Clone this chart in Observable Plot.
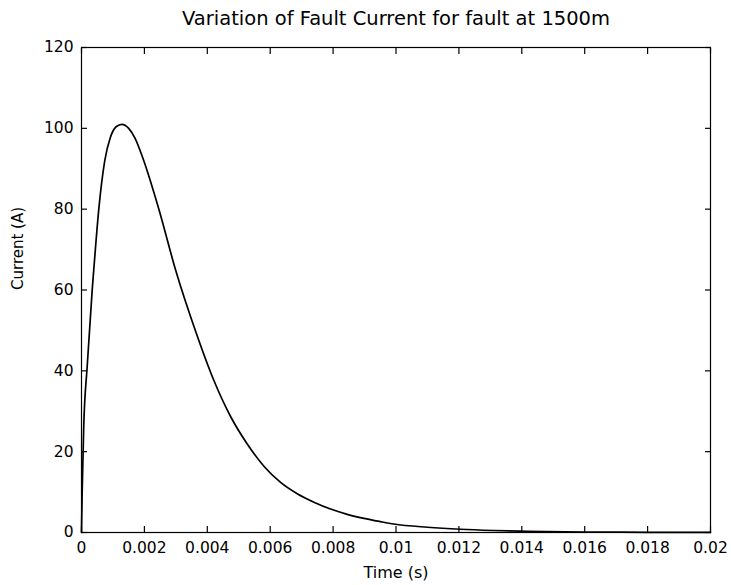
<!DOCTYPE html>
<html>
<head>
<meta charset="utf-8">
<script src="https://cdn.jsdelivr.net/npm/d3@7"></script>
<script src="https://cdn.jsdelivr.net/npm/@observablehq/plot@0.6"></script>
<style>
  html, body { margin: 0; padding: 0; background: #fff; }
  svg { display: block; font-family: "DejaVu Sans", sans-serif; }
</style>
</head>
<body>
<div id="chart"></div>
<script>
const titleText = "Variation of Fault Current for fault at 1500m";
const xLabel = "Time (s)";
const yLabel = "Current (A)";

const time = [0, 0.00002, 0.00007, 0.00018, 0.00034, 0.00039, 0.00055, 0.00074, 0.00092, 0.0011, 0.00129, 0.0015, 0.0017, 0.00198, 0.00246, 0.00299, 0.00365, 0.00421, 0.00474, 0.00527, 0.0058, 0.00633, 0.00686, 0.00739, 0.00792, 0.00845, 0.00898, 0.0095, 0.00993, 0.011, 0.01205, 0.0131, 0.01417, 0.016, 0.018, 0.02];
const current = [0, 9.6, 26, 41, 60, 65, 80, 92, 97.8, 100.4, 101, 100, 97.6, 92, 80, 65, 49.3, 37.6, 28.7, 21.9, 16.4, 12.4, 9.6, 7.5, 5.8, 4.5, 3.5, 2.7, 2.1, 1.3, 0.8, 0.5, 0.3, 0.12, 0.05, 0.02];

const xTicks = [0, 0.002, 0.004, 0.006, 0.008, 0.01, 0.012, 0.014, 0.016, 0.018, 0.02];
const xTickLabels = ["0", "0.002", "0.004", "0.006", "0.008", "0.01", "0.012", "0.014", "0.016", "0.018", "0.02"];
const yTicks = [0, 20, 40, 60, 80, 100, 120];
const yTickLabels = ["0", "20", "40", "60", "80", "100", "120"];

const data = time.map((t, i) => ({t, v: current[i]}));
const fmtX = d => xTickLabels[xTicks.indexOf(d)];
const fmtY = d => yTickLabels[yTicks.indexOf(d)];

const font = "'DejaVu Sans', sans-serif";
const tickLen = 6;
const chart = Plot.plot({
  width: 731,
  height: 585,
  marginLeft: 81,
  marginRight: 21,
  marginTop: 47,
  marginBottom: 53,
  style: {fontFamily: font, background: "#fff", color: "#000"},
  x: {domain: [0, 0.02], axis: null},
  y: {domain: [0, 120], axis: null},
  marks: [
    Plot.frame({stroke: "#000", strokeWidth: 1.2}),
    // inward ticks on all four sides
    Plot.axisX(xTicks, {anchor: "bottom", tickSize: tickLen, dy: -tickLen, tickFormat: () => "", label: null, strokeWidth: 1.2}),
    Plot.axisX(xTicks, {anchor: "top", tickSize: tickLen, dy: tickLen, tickFormat: () => "", label: null, strokeWidth: 1.2}),
    Plot.axisY(yTicks, {anchor: "left", tickSize: tickLen, dx: tickLen, tickFormat: () => "", label: null, strokeWidth: 1.2}),
    Plot.axisY(yTicks, {anchor: "right", tickSize: tickLen, dx: -tickLen, tickFormat: () => "", label: null, strokeWidth: 1.2}),
    // tick labels
    Plot.axisX(xTicks, {anchor: "bottom", tickSize: 0, tickPadding: 9, tickFormat: fmtX, label: null, fontSize: 15.5, fill: "#000"}),
    Plot.axisY(yTicks, {anchor: "left", tickSize: 0, tickPadding: 8, tickFormat: fmtY, label: null, fontSize: 15.5, fill: "#000"}),
    Plot.line(data, {x: "t", y: "v", stroke: "#000", strokeWidth: 1.7, curve: "monotone-x"}),
    Plot.text([titleText], {frameAnchor: "top", dy: -29, fontSize: 19.5, fill: "#000", lineAnchor: "middle"}),
    Plot.text([xLabel], {frameAnchor: "bottom", dy: 40, fontSize: 16, fill: "#000", lineAnchor: "middle"}),
    Plot.text([yLabel], {frameAnchor: "left", dx: -63, rotate: -90, fontSize: 15, fill: "#000", lineAnchor: "middle"})
  ]
});
document.getElementById("chart").appendChild(chart);
</script>
</body>
</html>
